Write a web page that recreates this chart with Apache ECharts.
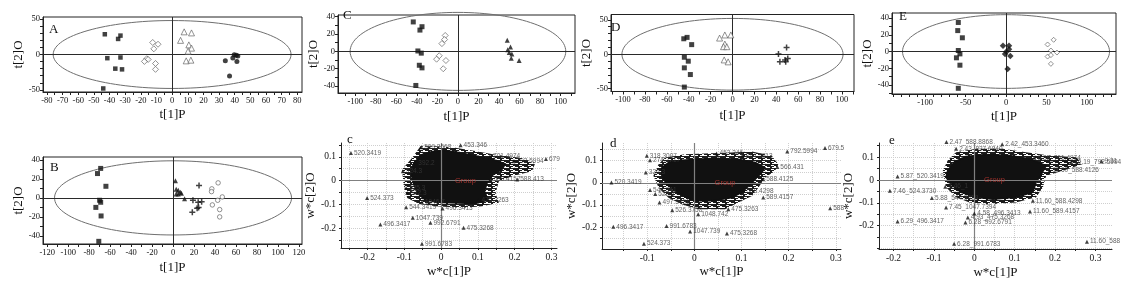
<!DOCTYPE html>
<html>
<head>
<meta charset="utf-8">
<script src="https://cdn.jsdelivr.net/npm/echarts@6/dist/echarts.min.js"></script>
<style>
  html, body { margin: 0; padding: 0; background: #fff; }
  #main { width: 1131px; height: 286px; }
</style>
</head>
<body>
<div id="main"></div>
<script>
// ---------- score plots: t[1]P / t[2]O ----------
var aSquare = [[-43, 28.6], [-33, 26.7], [-34.5, 22], [-41.4, -5.2], [-33, -4.2], [-36.3, -20], [-32, -21], [-44, -48]];
var aDiamond = [[-12.4, 17], [-9, 14.5], [-11.7, 8], [-16.2, -6], [-15.3, -7], [-17.7, -9.8], [-10.6, -12.7], [-10.6, -21]];
var aTriangle = [[7.7, 32], [12.4, 30.5], [5.4, 20], [10.7, 13.6], [12.4, 9], [10.2, 4.7], [9, -9], [12, -8]];
var aStar = [[34, -9], [39.7, -0.5], [41, -1], [42, -2], [38.8, -5], [41.4, -10], [36.7, -30.5]];

var bSquare = [[-69, 31], [-72, 25.6], [-64, 12.2], [-70, -2.5], [-69, -4.6], [-73.6, -10], [-68.6, -19], [-70.8, -45.7]];
var bTriangle = [[2.3, 17.9], [3, 9], [5, 8], [7, 6], [3, 4], [5, 4], [8, 5], [11, -1]];
var bPlus = [[24.8, 13], [19, -2.5], [24, -4.6], [27.3, -4], [24.4, -10], [18.4, -15], [23, -11]];
var bCircle = [[43, 15.8], [37, 9.5], [36.7, 6.6], [47, 1], [42.6, -2.5], [37.5, -7.4], [44.5, -12.3], [44.5, -20]];

var cSquare = [[-43.5, 34], [-35, 28.5], [-37, 24.6], [-39, 0.5], [-35.7, -2], [-37.6, -16], [-35, -19], [-41, -39.3]];
var cDiamond = [[-12.4, 18.4], [-13, 13.7], [-15.6, 9], [-18.2, -5], [-20.8, -9], [-11.7, -10.5], [-14.3, -20]];
var cTriangle = [[48, 13], [51.2, 5], [48.5, 2], [50, -1.2], [52.5, -3], [51.9, -8], [59.6, -10.5]];

var dSquare = [[-44.5, 22.5], [-41.5, 24.5], [-37.3, 14], [-44, -4.3], [-40.4, -10], [-44, -19.7], [-38.5, -29.4], [-44, -47.6]];
var dTriangle = [[-11.8, 23.5], [-7, 28], [-1.5, 28], [-7, 14.8], [-8.2, 11], [-5.2, 11], [-7.6, -8.2], [-4, -11]];
var dPlus = [[42, 0.4], [49.4, 10], [43.3, -11], [48, -8.2], [50.5, -6.3], [48.6, -11]];

var eSquare = [[-59, 34.7], [-59.7, 25], [-54, 16.4], [-59, 1.2], [-57, -2.8], [-61.3, -7.5], [-57, -16.3], [-59, -43.9]];
var eStar = [[-3.7, 6.8], [3.7, 6.8], [3.7, 2.8], [0.4, -0.4], [-1.2, -2.8], [5.3, -5.2], [2, -21]];
var eDiamond = [[51.4, 8.4], [58.9, 14], [55.5, 1.2], [63, -1.2], [51.4, -6], [55.5, -4.3], [55.5, -14.7]];

// Hotelling ellipse semi-axes [a, b] for A..E
var ellipseAxes = [[76, 48], [113, 39], [105, 45], [101, 52], [128, 44]];

// ---------- loading plots: w*c[1]P / w*c[2]O ----------
var cLoadNames = ['520.3419', '453.346', '509.3568', '701.4974', '792.5994', '679', '588.413', '524.373', '544.3419',
  '496.3413', '1047.739', '992.6791', '496.3417', '475.3268', '991.6783', '525.3', '524.3', '392.2', '522.3', '1046.7',
  '475.3263', '589.4157'];
var cLoadPts = [[-0.245, 0.116], [0.053, 0.149], [-0.054, 0.140], [0.133, 0.102], [0.197, 0.081], [0.285, 0.091], [0.207, 0.004],
  [-0.201, -0.073], [-0.095, -0.112], [0.004, -0.118], [-0.077, -0.157], [-0.029, -0.178], [-0.165, -0.185], [0.061, -0.199],
  [-0.052, -0.266], [-0.095, -0.031], [-0.104, 0.039], [-0.07, 0.075], [-0.092, -0.052], [-0.052, -0.091], [0.102, -0.084],
  [0.134, 0.004]];
// dense core of overlapping points, and the cluttered fringe of labels round it
var cBlob = [[-0.074, 0.074], [-0.052, 0.109], [-0.024, 0.122], [0.012, 0.126], [0.048, 0.118], [0.093, 0.104], [0.139, 0.090],
  [0.175, 0.070], [0.165, 0.046], [0.140, 0.023], [0.125, -0.010], [0.118, -0.045], [0.128, -0.082], [0.093, -0.097],
  [0.048, -0.095], [0.003, -0.092], [-0.043, -0.082], [-0.065, -0.052], [-0.077, -0.003], [-0.082, 0.039]];
var cFringe = [[-0.106, 0.046], [-0.079, 0.095], [-0.056, 0.144], [-0.015, 0.144], [0.030, 0.140], [0.093, 0.124], [0.148, 0.109],
  [0.220, 0.095], [0.256, 0.074], [0.247, 0.039], [0.193, 0.018], [0.157, -0.003], [0.148, -0.052], [0.157, -0.094],
  [0.111, -0.108], [0.057, -0.115], [-0.015, -0.108], [-0.061, -0.098], [-0.092, -0.073], [-0.102, -0.017]];

var dLoadNames = ['679.5', '792.5994', '453.346', '814.5813', '318.3007', '274.2717', '566.431', '588.4125', '520.3419',
  '326.3', '544.341', '522.3', '497.3451', '589.4157', '588', '475.3263', '526.3758', '1048.742', '991.6783', '1047.739',
  '475.3268', '496.3417', '524.373', '568.4298'];
var dLoadPts = [[0.277, 0.157], [0.197, 0.142], [0.047, 0.133], [0.102, 0.122], [-0.101, 0.122], [-0.094, 0.102], [0.176, 0.072],
  [0.146, 0.016], [-0.176, 0.001], [-0.103, 0.047], [-0.094, -0.032], [-0.083, -0.051], [-0.074, -0.089], [0.146, -0.066],
  [0.288, -0.115], [0.072, -0.119], [-0.047, -0.124], [0.008, -0.142], [-0.059, -0.195], [-0.009, -0.220], [0.069, -0.229],
  [-0.172, -0.199], [-0.107, -0.275], [0.104, -0.036]];
var dBlob = [[-0.069, 0.069], [-0.055, 0.092], [-0.027, 0.102], [0.008, 0.107], [0.044, 0.111], [0.093, 0.107], [0.129, 0.092],
  [0.150, 0.069], [0.143, 0.047], [0.129, 0.016], [0.115, -0.014], [0.100, -0.044], [0.079, -0.067], [0.037, -0.081],
  [0.001, -0.081], [-0.020, -0.063], [-0.041, -0.036], [-0.059, -0.006], [-0.069, 0.032]];
var dFringe = [[-0.076, 0.084], [-0.062, 0.114], [-0.020, 0.129], [0.023, 0.133], [0.079, 0.137], [0.122, 0.142], [0.164, 0.122],
  [0.178, 0.084], [0.171, 0.054], [0.150, 0.024], [0.136, -0.021], [0.122, -0.059], [0.093, -0.089], [0.065, -0.119],
  [0.008, -0.119], [-0.027, -0.097], [-0.055, -0.067], [-0.076, -0.021], [-0.087, 0.032]];

var eLoadNames = ['2.47_588.8868', '2.42_453.3460', '2.43_827.6840', '6.38_701.4974', '9.31', '10.19_792.5994', '11.60_588.4126',
  '5.87_520.3419', '7.46_524.3730', '7.46_1', '5.88_544.3419', '7.45_1047.7394', '11.60_588.4298', '11.60_589.4157',
  '6.29_496.3417', '6.28_992.6791', '4.93_475.3268', '4.58_496.3413', '6.28_991.6783', '11.60_588'];
var eLoadPts = [[-0.069, 0.166], [0.069, 0.156], [-0.045, 0.137], [0.149, 0.097], [0.315, 0.082], [0.240, 0.079], [0.186, 0.041],
  [-0.190, 0.015], [-0.209, -0.047], [-0.072, -0.029], [-0.105, -0.079], [-0.070, -0.120], [0.145, -0.091], [0.138, -0.138],
  [-0.190, -0.182], [-0.022, -0.186], [-0.016, -0.164], [0.0, -0.147], [-0.050, -0.279], [0.279, -0.270]];
var eBlob = [[-0.066, 0.041], [-0.050, 0.078], [-0.021, 0.103], [0.029, 0.112], [0.087, 0.107], [0.136, 0.093], [0.178, 0.063],
  [0.166, 0.026], [0.153, -0.010], [0.145, -0.054], [0.103, -0.076], [0.046, -0.084], [0.004, -0.076], [-0.033, -0.054],
  [-0.058, -0.018], [-0.070, 0.012]];
var eFringe = [[-0.078, 0.041], [-0.066, 0.085], [-0.045, 0.122], [0.004, 0.137], [0.070, 0.137], [0.128, 0.122], [0.186, 0.107],
  [0.252, 0.100], [0.269, 0.070], [0.219, 0.041], [0.178, 0.019], [0.170, -0.032], [0.153, -0.076], [0.103, -0.098],
  [0.037, -0.106], [-0.012, -0.098], [-0.045, -0.076], [-0.070, -0.032]];

var groupPos = [[0.066, 0], [0.065, 0.001], [0.050, 0]];

// ---------- axes: ranges, ticks, labels ----------
var xRanges = [[-82.5, 83], [-124, 123], [-116.8, 114], [-111, 111], [-141, 136], [-0.272, 0.315], [-0.196, 0.311], [-0.236, 0.341]];
var yRanges = [[-53, 53], [-48.5, 43], [-48, 42], [-54, 57.7], [-50.7, 46], [-0.284, 0.158], [-0.299, 0.18], [-0.302, 0.162]];

var xLabels = [
  [-80, -70, -60, -50, -40, -30, -20, -10, 0, 10, 20, 30, 40, 50, 60, 70, 80],
  [-120, -100, -80, -60, -40, -20, 0, 20, 40, 60, 80, 100, 120],
  [-100, -80, -60, -40, -20, 0, 20, 40, 60, 80, 100],
  [-100, -80, -60, -40, -20, 0, 20, 40, 60, 80, 100],
  [-100, -50, 0, 50, 100],
  [-0.2, -0.1, 0, 0.1, 0.2, 0.3],
  [-0.1, 0, 0.1, 0.2, 0.3],
  [-0.2, -0.1, 0, 0.1, 0.2, 0.3]
];
var xTicks = [
  [-80, -75, -70, -65, -60, -55, -50, -45, -40, -35, -30, -25, -20, -15, -10, -5, 0, 5, 10, 15, 20, 25, 30, 35, 40, 45, 50, 55, 60, 65, 70, 75, 80],
  [-120, -110, -100, -90, -80, -70, -60, -50, -40, -30, -20, -10, 0, 10, 20, 30, 40, 50, 60, 70, 80, 90, 100, 110, 120],
  [-110, -100, -90, -80, -70, -60, -50, -40, -30, -20, -10, 0, 10, 20, 30, 40, 50, 60, 70, 80, 90, 100, 110],
  [-110, -100, -90, -80, -70, -60, -50, -40, -30, -20, -10, 0, 10, 20, 30, 40, 50, 60, 70, 80, 90, 100, 110],
  [-140, -130, -120, -110, -100, -90, -80, -70, -60, -50, -40, -30, -20, -10, 0, 10, 20, 30, 40, 50, 60, 70, 80, 90, 100, 110, 120, 130],
  [-0.25, -0.2, -0.15, -0.1, -0.05, 0, 0.05, 0.1, 0.15, 0.2, 0.25, 0.3],
  [-0.15, -0.1, -0.05, 0, 0.05, 0.1, 0.15, 0.2, 0.25, 0.3],
  [-0.2, -0.15, -0.1, -0.05, 0, 0.05, 0.1, 0.15, 0.2, 0.25, 0.3]
];
var yLabels = [
  [-50, 0, 50],
  [-40, -20, 0, 20, 40],
  [-40, -20, 0, 20, 40],
  [-50, 0, 50],
  [-40, -20, 0, 20, 40],
  [-0.2, -0.1, 0, 0.1],
  [-0.2, -0.1, 0, 0.1],
  [-0.2, -0.1, 0, 0.1]
];
var yTicks = [
  [-50, -40, -30, -20, -10, 0, 10, 20, 30, 40, 50],
  [-40, -30, -20, -10, 0, 10, 20, 30, 40],
  [-40, -30, -20, -10, 0, 10, 20, 30, 40],
  [-50, -40, -30, -20, -10, 0, 10, 20, 30, 40, 50],
  [-50, -40, -30, -20, -10, 0, 10, 20, 30, 40],
  [-0.25, -0.2, -0.15, -0.1, -0.05, 0, 0.05, 0.1, 0.15],
  [-0.25, -0.2, -0.15, -0.1, -0.05, 0, 0.05, 0.1, 0.15],
  [-0.3, -0.25, -0.2, -0.15, -0.1, -0.05, 0, 0.05, 0.1, 0.15]
];
var xNames = ['t[1]P', 't[1]P', 't[1]P', 't[1]P', 't[1]P', 'w*c[1]P', 'w*c[1]P', 'w*c[1]P'];
var yNames = ['t[2]O', 't[2]O', 't[2]O', 't[2]O', 't[2]O', 'w*c[2]O', 'w*c[2]O', 'w*c[2]O'];
var panelLetters = ['A', 'B', 'C', 'D', 'E', 'c', 'd', 'e'];

// ---------- layout ----------
var grids = [
  { left: 43, top: 17, width: 259, height: 75 },
  { left: 43, top: 157, width: 259, height: 87 },
  { left: 338, top: 15, width: 237, height: 78 },
  { left: 611, top: 14.5, width: 243, height: 77 },
  { left: 892, top: 13, width: 224, height: 81 },
  { left: 341, top: 143, width: 216, height: 105 },
  { left: 602, top: 143, width: 239, height: 106 },
  { left: 879, top: 143, width: 233, height: 106 }
];
var letterPos = [[49, 23], [50, 161.5], [343, 9.5], [611, 21.5], [899, 10.5], [347, 133], [610, 137], [889, 134]];
var xNameGap = [16, 17, 17, 18, 16, 17, 16, 17];
var yNameGap = [13, 13, 12, 14, 13, 12, 15, 15];

var serif = '"Liberation Serif", "Times New Roman", serif';
var sans = '"Liberation Sans", Arial, sans-serif';

var chart = echarts.init(document.getElementById('main'), null, { renderer: 'canvas' });

var xAxis = [], yAxis = [], title = [];
grids.forEach(function (g, i) {
  var lower = i >= 5;
  g.show = !lower;
  g.borderColor = '#222';
  g.borderWidth = 1;
  g.containLabel = false;
  xAxis.push({
    type: 'value', gridIndex: i, min: xRanges[i][0], max: xRanges[i][1], position: 'bottom',
    name: xNames[i], nameLocation: 'middle', nameGap: xNameGap[i],
    nameTextStyle: { fontFamily: serif, fontSize: 13, color: '#111' },
    axisLine: { show: true, onZero: false, lineStyle: { color: '#222', width: 1 } },
    axisTick: { show: true, customValues: xTicks[i], length: lower ? 2 : 3, lineStyle: { color: '#222' } },
    axisLabel: { customValues: xLabels[i], fontFamily: serif, fontSize: lower ? 9.5 : 8.5, color: '#111', margin: 4 },
    splitLine: { show: lower, lineStyle: { type: 'dotted', color: '#cfcfcf', width: 1 } }
  });
  yAxis.push({
    type: 'value', gridIndex: i, min: yRanges[i][0], max: yRanges[i][1], position: 'left',
    name: yNames[i], nameLocation: 'middle', nameGap: yNameGap[i],
    nameTextStyle: { fontFamily: serif, fontSize: 13, color: '#111' },
    axisLine: { show: true, onZero: false, lineStyle: { color: '#222', width: 1 } },
    axisTick: { show: true, customValues: yTicks[i], length: lower ? 2 : 3, lineStyle: { color: '#222' } },
    axisLabel: { customValues: yLabels[i], fontFamily: serif, fontSize: lower ? 9.5 : 8.5, color: '#111', margin: lower ? 5 : 3 },
    splitLine: { show: lower, lineStyle: { type: 'dotted', color: '#cfcfcf', width: 1 } }
  });
  title.push({
    text: panelLetters[i], left: letterPos[i][0], top: letterPos[i][1], padding: 0,
    textStyle: { fontFamily: serif, fontSize: 13, fontWeight: 'normal', color: '#111' }
  });
});

function zeroLines(color, width) {
  return {
    silent: true, symbol: 'none', animation: false,
    label: { show: false },
    lineStyle: { color: color, width: width, type: 'solid' },
    data: [{ xAxis: 0 }, { yAxis: 0 }]
  };
}

function pts(gi, data, symbol, size, filled, extra) {
  var s = {
    type: 'scatter', xAxisIndex: gi, yAxisIndex: gi, data: data, symbol: symbol, symbolSize: size,
    silent: true, z: 5,
    itemStyle: filled ? { color: '#111' } : { color: '#fff', borderColor: '#555', borderWidth: 0.8 }
  };
  if (extra) for (var k in extra) s[k] = extra[k];
  return s;
}

function ellipse(gi, ab) {
  return {
    type: 'custom', xAxisIndex: gi, yAxisIndex: gi, data: [[0, 0, ab[0], ab[1]]],
    encode: { x: 0, y: 1 }, silent: true, z: 2,
    renderItem: function (p, api) {
      var c = api.coord([api.value(0), api.value(1)]);
      var s = api.size([api.value(2), api.value(3)]);
      return {
        type: 'ellipse',
        shape: { cx: c[0], cy: c[1], rx: s[0], ry: s[1] },
        style: { fill: null, stroke: '#6f6f6f', lineWidth: 1 }
      };
    }
  };
}

// a small striped tile, so the fringe reads like rows of overlapping labels
function labelTexture() {
  var cv = document.createElement('canvas');
  cv.width = 9; cv.height = 4;
  var ctx = cv.getContext('2d');
  ctx.fillStyle = '#1c1c1c';
  ctx.fillRect(0, 0, 9, 1);
  ctx.fillRect(0, 1, 6, 1);
  ctx.fillRect(2, 2, 7, 1);
  ctx.fillRect(5, 3, 2, 1);
  return cv;
}
var fringeFill = { image: labelTexture(), repeat: 'repeat' };
var coreFill = '#111';

// filled outline drawn through the axes (core or fringe of the point cloud)
function blob(gi, outline, fill, z) {
  return {
    type: 'custom', xAxisIndex: gi, yAxisIndex: gi, data: [[0, 0]], silent: true, z: z,
    renderItem: function (p, api) {
      var poly = outline.map(function (d) { return api.coord(d); });
      return {
        type: 'polygon',
        shape: { points: poly },
        style: { fill: fill, stroke: typeof fill === 'string' ? fill : null, lineWidth: 1.5, lineJoin: 'round' }
      };
    }
  };
}

function loadings(gi, names, coords) {
  return {
    type: 'scatter', xAxisIndex: gi, yAxisIndex: gi, symbol: 'triangle', symbolSize: 4, silent: true, z: 6,
    clip: false,
    itemStyle: { color: '#111' },
    data: coords.map(function (c, k) { return { name: names[k], value: c }; }),
    label: {
      show: true, position: 'right', distance: 1, formatter: '{b}',
      fontFamily: sans, fontSize: 6.5, color: '#3a3a3a'
    }
  };
}

function groupLabel(gi, pos) {
  return {
    type: 'scatter', xAxisIndex: gi, yAxisIndex: gi, data: [pos], symbolSize: 0, silent: true, z: 7,
    label: { show: true, position: 'inside', formatter: 'Group', fontFamily: sans, fontSize: 7.5, color: '#c23a33' },
    markLine: zeroLines('#808080', 1.2)
  };
}

var dark = zeroLines('#2a2a2a', 1);
var plusPath = 'path://M3,0H5V3H8V5H5V8H3V5H0V3H3Z';

var series = [
  // A
  ellipse(0, ellipseAxes[0]),
  pts(0, aSquare, 'rect', 4.5, true, { markLine: dark }),
  pts(0, aDiamond, 'diamond', 6, false),
  pts(0, aTriangle, 'triangle', 6, false),
  pts(0, aStar, 'circle', 5, true),
  // B
  ellipse(1, ellipseAxes[1]),
  pts(1, bSquare, 'rect', 5, true, { markLine: dark }),
  pts(1, bTriangle, 'triangle', 5, true),
  pts(1, bPlus, plusPath, 6, true),
  pts(1, bCircle, 'circle', 4.5, false),
  // C
  ellipse(2, ellipseAxes[2]),
  pts(2, cSquare, 'rect', 5, true, { markLine: dark }),
  pts(2, cDiamond, 'diamond', 6, false),
  pts(2, cTriangle, 'triangle', 5, true),
  // D
  ellipse(3, ellipseAxes[3]),
  pts(3, dSquare, 'rect', 5, true, { markLine: dark }),
  pts(3, dTriangle, 'triangle', 6, false),
  pts(3, dPlus, plusPath, 6, true),
  // E
  ellipse(4, ellipseAxes[4]),
  pts(4, eSquare, 'rect', 5, true, { markLine: dark }),
  pts(4, eStar, 'diamond', 6.5, true),
  pts(4, eDiamond, 'diamond', 5, false),
  // c, d, e
  groupLabel(5, groupPos[0]),
  blob(5, cFringe, fringeFill, 3),
  blob(5, cBlob, coreFill, 4),
  loadings(5, cLoadNames, cLoadPts),
  groupLabel(6, groupPos[1]),
  blob(6, dFringe, fringeFill, 3),
  blob(6, dBlob, coreFill, 4),
  loadings(6, dLoadNames, dLoadPts),
  groupLabel(7, groupPos[2]),
  blob(7, eFringe, fringeFill, 3),
  blob(7, eBlob, coreFill, 4),
  loadings(7, eLoadNames, eLoadPts)
];

chart.setOption({
  animation: false,
  backgroundColor: '#fff',
  title: title,
  grid: grids,
  xAxis: xAxis,
  yAxis: yAxis,
  series: series
});
</script>
</body>
</html>
